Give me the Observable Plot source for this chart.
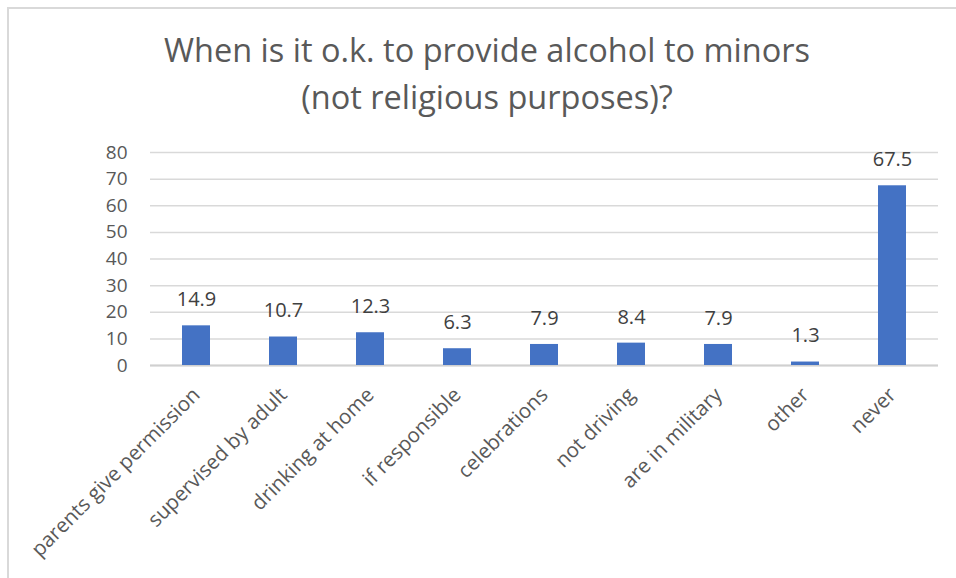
<!DOCTYPE html>
<html>
<head>
<meta charset="utf-8">
<script src="https://cdn.jsdelivr.net/npm/d3@7"></script>
<script src="https://cdn.jsdelivr.net/npm/@observablehq/plot@0.6"></script>
<style>
  html, body { margin: 0; padding: 0; background: #fff; }
  #wrap { position: relative; width: 956px; height: 578px; overflow: hidden; font-family: "Open Sans", Lato, sans-serif; }
  #frame { position: absolute; left: 7px; top: 7px; width: 1000px; height: 1000px; border-left: 2px solid #d9d9d9; border-top: 2px solid #d9d9d9; }
  #title { position: relative; height: 130px; width: 974px; text-align: center; color: #595959; font-size: 32.5px; line-height: 47px; padding-top: 26px; box-sizing: border-box; }
  #chart { position: relative; }
  #chart [aria-label^="x-axis"] text { font-size: 20.5px; }
</style>
</head>
<body>
<div id="wrap">
  <div id="frame"></div>
  <div id="title">When is it o.k. to provide alcohol to minors<br>(not religious purposes)?</div>
  <div id="chart"></div>
</div>
<script>
const categories = ["parents give permission", "supervised by adult", "drinking at home", "if responsible", "celebrations", "not driving", "are in military", "other", "never"];
const values = [14.9, 10.7, 12.3, 6.3, 7.9, 8.4, 7.9, 1.3, 67.5];
const yTicks = [0, 10, 20, 30, 40, 50, 60, 70, 80];

const data = categories.map((c, i) => ({category: c, value: values[i]}));

const chart = Plot.plot({
  width: 956,
  height: 448,
  marginTop: 22,
  marginBottom: 213,
  marginLeft: 150,
  marginRight: 18,
  style: {fontFamily: "'Open Sans', Lato, sans-serif", fontSize: "19px", color: "#595959", background: "transparent"},
  x: {domain: categories, paddingInner: 0.68, paddingOuter: 0.34, label: null, tickSize: 0, tickPadding: 26, tickRotate: -45},
  y: {domain: [0, 80], ticks: yTicks, label: null, tickSize: 0, tickPadding: 23},
  marks: [
    Plot.ruleY(yTicks, {stroke: "#d9d9d9", strokeWidth: 1.5}),
    Plot.ruleY([0], {stroke: "#d0d0d0", strokeWidth: 2}),
    Plot.barY(data, {x: "category", y: "value", fill: "#4472c4"}),
    Plot.text(data, {x: "category", y: "value", text: d => d.value.toFixed(1), dy: -26, fill: "#404040", fontSize: 20})
  ]
});
document.getElementById("chart").appendChild(chart);
</script>
</body>
</html>
